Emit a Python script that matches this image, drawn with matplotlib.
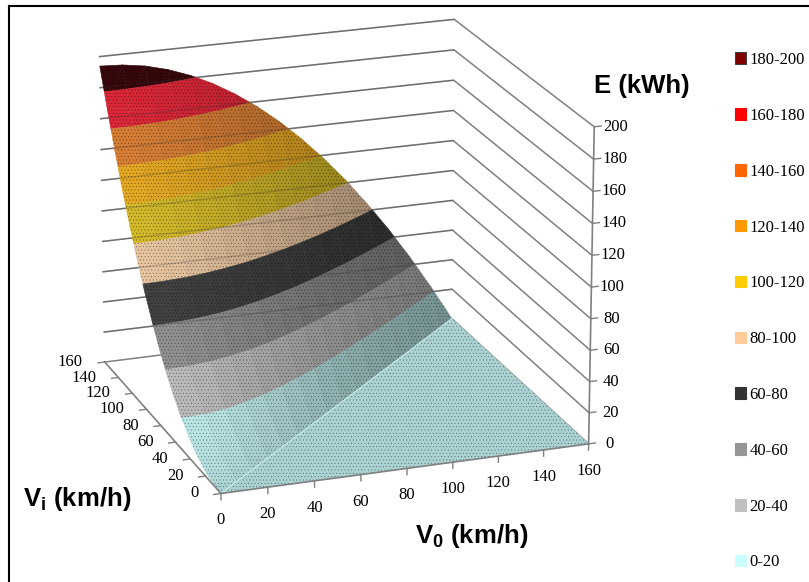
#!/usr/bin/env python3
import numpy as np
import matplotlib
matplotlib.use('Agg')
import matplotlib.pyplot as plt
from matplotlib.lines import Line2D
from matplotlib.patches import Patch
from mpl_toolkits.mplot3d import proj3d
from mpl_toolkits.mplot3d.art3d import Poly3DCollection

v0_values = [0, 10, 20, 30, 40, 50, 60, 70, 80, 90, 100, 110, 120, 130, 140, 150, 160]
vi_values = [0, 10, 20, 30, 40, 50, 60, 70, 80, 90, 100, 110, 120, 130, 140, 150, 160]

# energy, one row per Vi, one column per V0
e_vi000 = [0.0, 0, 0, 0, 0, 0, 0, 0, 0, 0, 0, 0, 0, 0, 0, 0, 0]
e_vi010 = [0.8, 0, 0, 0, 0, 0, 0, 0, 0, 0, 0, 0, 0, 0, 0, 0, 0]
e_vi020 = [3.0, 2.2, 0, 0, 0, 0, 0, 0, 0, 0, 0, 0, 0, 0, 0, 0, 0]
e_vi030 = [6.8, 6.0, 3.8, 0, 0, 0, 0, 0, 0, 0, 0, 0, 0, 0, 0, 0, 0]
e_vi040 = [12.1, 11.3, 9.1, 5.3, 0, 0, 0, 0, 0, 0, 0, 0, 0, 0, 0, 0, 0]
e_vi050 = [18.9, 18.1, 15.9, 12.1, 6.8, 0, 0, 0, 0, 0, 0, 0, 0, 0, 0, 0, 0]
e_vi060 = [27.3, 26.5, 24.3, 20.5, 15.2, 8.4, 0, 0, 0, 0, 0, 0, 0, 0, 0, 0, 0]
e_vi070 = [37.1, 36.3, 34.1, 30.3, 25.0, 18.2, 9.8, 0, 0, 0, 0, 0, 0, 0, 0, 0, 0]
e_vi080 = [48.5, 47.7, 45.5, 41.7, 36.4, 29.6, 21.2, 11.4, 0, 0, 0, 0, 0, 0, 0, 0, 0]
e_vi090 = [61.4, 60.6, 58.4, 54.6, 49.3, 42.5, 34.1, 24.3, 12.9, 0, 0, 0, 0, 0, 0, 0, 0]
e_vi100 = [75.8, 75.0, 72.8, 69.0, 63.7, 56.9, 48.5, 38.7, 27.3, 14.4, 0, 0, 0, 0, 0, 0, 0]
e_vi110 = [91.7, 90.9, 88.7, 84.9, 79.6, 72.8, 64.4, 54.6, 43.2, 30.3, 15.9, 0, 0, 0, 0, 0, 0]
e_vi120 = [109.1, 108.3, 106.1, 102.3, 97.0, 90.2, 81.8, 72.0, 60.6, 47.7, 33.3, 17.4, 0, 0, 0, 0, 0]
e_vi130 = [128.0, 127.2, 125.0, 121.2, 115.9, 109.1, 100.7, 90.9, 79.5, 66.6, 52.2, 36.3, 18.9, 0, 0, 0, 0]
e_vi140 = [148.5, 147.7, 145.5, 141.7, 136.4, 129.6, 121.2, 111.4, 100.0, 87.1, 72.7, 56.8, 39.4, 20.5, 0, 0, 0]
e_vi150 = [170.5, 169.7, 167.5, 163.7, 158.4, 151.6, 143.2, 133.4, 122.0, 109.1, 94.7, 78.8, 61.4, 42.5, 22.0, 0, 0]
e_vi160 = [193.9, 193.1, 190.9, 187.1, 181.8, 175.0, 166.6, 156.8, 145.4, 132.5, 118.1, 102.2, 84.8, 65.9, 45.4, 23.4, 0]

energy_rows = [e_vi000, e_vi010, e_vi020, e_vi030, e_vi040, e_vi050, e_vi060, e_vi070, e_vi080,
               e_vi090, e_vi100, e_vi110, e_vi120, e_vi130, e_vi140, e_vi150, e_vi160]

band_labels = ['180-200', '160-180', '140-160', '120-140', '100-120',
               '80-100', '60-80', '40-60', '20-40', '0-20']
band_lows = [180, 160, 140, 120, 100, 80, 60, 40, 20, 0]
band_highs = [200, 180, 160, 140, 120, 100, 80, 60, 40, 20]
legend_colors = ['#800000', '#ff0000', '#ff6600', '#ff9900', '#ffcc00',
                 '#ffcc99', '#333333', '#969696', '#c0c0c0', '#ccffff']
surface_colors = ['#33070a', '#c92433', '#c47330', '#cf981f', '#bfa725',
                  '#cfb08f', '#3a3a3a', '#808080', '#a6a6a6', '#a9d0d0']

speed_ticks = [0, 20, 40, 60, 80, 100, 120, 140, 160]
energy_ticks = [0, 20, 40, 60, 80, 100, 120, 140, 160, 180, 200]

GRID = '#808080'
LIGHT = np.array([-0.5, -0.5, 0.7])


def clip_z(poly, level, keep_above):
    out = []
    for k in range(len(poly)):
        a = poly[k]
        b = poly[(k + 1) % len(poly)]
        a_in = a[2] >= level if keep_above else a[2] <= level
        b_in = b[2] >= level if keep_above else b[2] <= level
        if a_in:
            out.append(a)
        if a_in != b_in:
            t = (level - a[2]) / (b[2] - a[2])
            out.append(a + t * (b - a))
    return out


def shade_of(tri):
    scale = np.array([2.4, 2.4, 1.5])
    n = np.cross((tri[1] - tri[0]) * scale, (tri[2] - tri[0]) * scale)
    n = n / np.linalg.norm(n)
    if n[2] < 0:
        n = -n
    return 0.45 + 0.8 * np.dot(n, LIGHT)


def build_triangles(v0, vi, energy):
    tris = []
    for i in range(len(vi) - 1):
        for j in range(len(v0) - 1):
            p00 = np.array([v0[j], vi[i], energy[i, j]], dtype=float)
            p10 = np.array([v0[j + 1], vi[i], energy[i, j + 1]], dtype=float)
            p01 = np.array([v0[j], vi[i + 1], energy[i + 1, j]], dtype=float)
            p11 = np.array([v0[j + 1], vi[i + 1], energy[i + 1, j + 1]], dtype=float)
            tris.append([p00, p10, p11])
            tris.append([p00, p11, p01])
    return tris


def main():
    plt.rcParams['font.family'] = 'Liberation Serif'
    plt.rcParams['mathtext.fontset'] = 'custom'
    plt.rcParams['mathtext.bf'] = 'Liberation Sans:bold'
    plt.rcParams['mathtext.rm'] = 'Liberation Sans:bold'
    plt.rcParams['hatch.color'] = (0, 0, 0, 0.45)
    plt.rcParams['hatch.linewidth'] = 0.3

    fig = plt.figure(figsize=(8.09, 5.82), dpi=100)
    ax = fig.add_axes([-0.0875, 0.0600, 1, 1], projection='3d', computed_zorder=False)
    ax.set_proj_type('persp', focal_length=1.6)
    ax.view_init(elev=19.5, azim=-109.7)
    ax.set_box_aspect((395, 391, 340), zoom=1.055)
    ax.set_axis_off()

    energy = np.array(energy_rows, dtype=float)
    tris = build_triangles(v0_values, vi_values, energy)

    # walls
    for z in energy_ticks:
        ax.plot([0, 160, 160], [160, 160, 0], [z, z, z], color=GRID, lw=1.1, zorder=1)

    # surface, clipped into one collection per band, stipple laid over it
    for lo, hi, col in zip(band_lows, band_highs, surface_colors):
        base = np.array(matplotlib.colors.to_rgb(col))
        polys = []
        faces = []
        for tri in tris:
            zs = [p[2] for p in tri]
            if max(zs) < lo or min(zs) > hi:
                continue
            poly = clip_z(tri, lo, True)
            if len(poly) >= 3:
                poly = clip_z(poly, hi, False)
            if len(poly) < 3:
                continue
            polys.append(np.array(poly))
            faces.append(tuple(np.clip(base * shade_of(tri), 0, 1)))
        ax.add_collection3d(Poly3DCollection(polys, facecolors=faces, edgecolors=faces,
                                             linewidths=0.4, zorder=2))
        ax.add_collection3d(Poly3DCollection(polys, facecolors=(0, 0, 0, 0), edgecolors='none',
                                             hatch='.....', zorder=2.5))

    # wall lines show faintly through the surface
    for z in energy_ticks[1:]:
        ax.plot([0, 160], [160, 160], [z, z], color='#303030', lw=1.1, alpha=0.22, zorder=3)

    # diagonal crease
    ax.plot([0, 160], [0, 160], [0, 0], color='#c4ecec', lw=0.8, zorder=3)

    # axis lines and ticks
    ax.plot([0, 160], [0, 0], [0, 0], color=GRID, lw=1.2, zorder=4)
    ax.plot([0, 0], [0, 160], [0, 0], color=GRID, lw=1.2, zorder=4)
    ax.plot([160, 160], [0, 0], [0, 200], color=GRID, lw=1.2, zorder=4)
    for v in speed_ticks:
        ax.plot([v, v], [0, 0], [0, -4], color=GRID, lw=1.0, zorder=4)
        ax.plot([0, -3], [v, v], [0, 0], color=GRID, lw=1.0, zorder=4)
    for z in energy_ticks:
        ax.plot([160, 163], [0, 0], [z, z], color=GRID, lw=1.0, zorder=4)

    ax.set_xlim(0, 160)
    ax.set_ylim(0, 160)
    ax.set_zlim(0, 200)

    proj = ax.get_proj()

    def label(text, x, y, z, dx, dy, ha='center'):
        px, py, _ = proj3d.proj_transform(x, y, z, proj)
        ax.annotate(text, (px, py), xytext=(dx * 0.72, dy * 0.72), textcoords='offset points',
                    ha=ha, va='center', fontsize=12, color='black', zorder=6)

    for v in speed_ticks:
        label(str(v), v, 0, 0, 0, -27)
        label(str(v), 0, v, 0, -22, 0, ha='right')
    for z in energy_ticks:
        label(str(z), 160, 0, z, 21, 0)

    title_font = dict(family='Liberation Sans', fontweight='bold', fontsize=18.5, color='black',
                      ha='center', va='center')
    fig.text(642 / 809, 1 - 86 / 582, 'E (kWh)', **title_font)
    fig.text(77 / 809, 1 - 499 / 582, r'V$_{\mathbf{i}}$ (km/h)', **title_font)
    fig.text(472 / 809, 1 - 536 / 582, r'V$_{\mathbf{0}}$ (km/h)', **title_font)

    handles = [Patch(facecolor=c, edgecolor='#404040' if lab == '180-200' else c, lw=0.8)
               for c, lab in zip(legend_colors, band_labels)]
    fig.legend(handles, band_labels, loc='upper left', bbox_to_anchor=(735 / 809, 1 - 52 / 582),
               frameon=False, fontsize=12, labelspacing=2.39, handlelength=0.68, handleheight=0.68,
               handletextpad=0.2, borderpad=0, borderaxespad=0)

    # chart frame, only top and left reach inside the crop
    fig.add_artist(Line2D([9 / 809, 1], [1 - 6 / 582, 1 - 6 / 582], color='black', lw=1.5))
    fig.add_artist(Line2D([9 / 809, 9 / 809], [0, 1 - 6 / 582], color='black', lw=1.5))

    fig.savefig('out.png', dpi=100)


if __name__ == '__main__':
    main()
